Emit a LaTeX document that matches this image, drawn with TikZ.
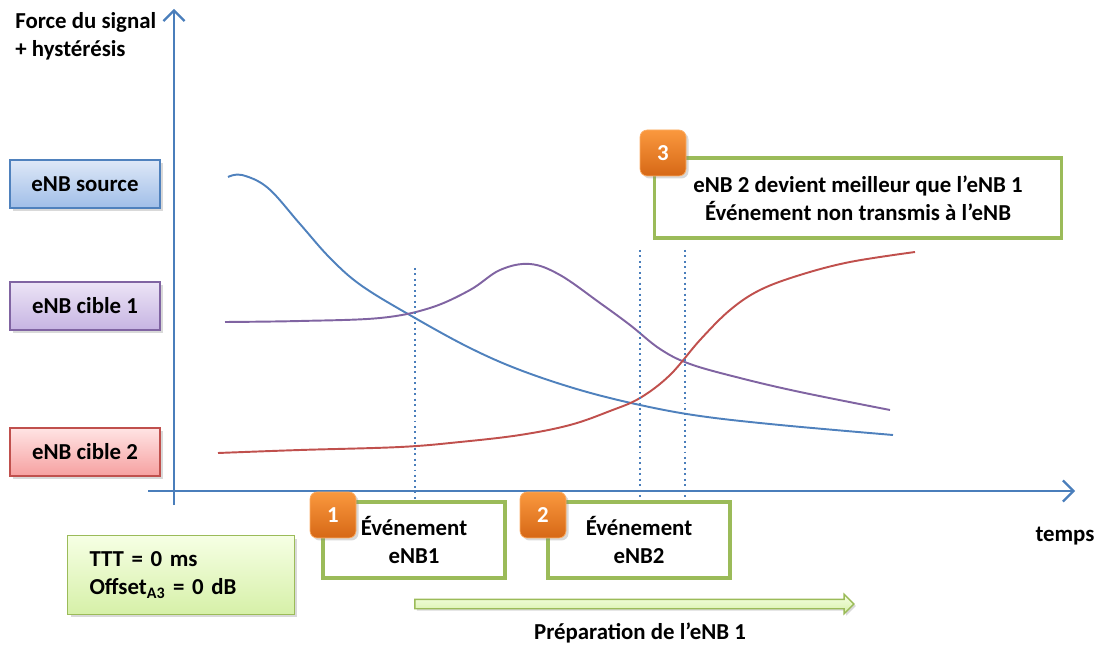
\documentclass[tikz,border=0pt]{standalone}
\usepackage{fontspec}
\setmainfont{Carlito}
\usetikzlibrary{arrows.meta,shapes.arrows,shadows,positioning}
\definecolor{axisblue}{RGB}{74,126,187}
\definecolor{srcblue}{RGB}{79,129,189}
\definecolor{cibpurple}{RGB}{128,100,162}
\definecolor{cibred}{RGB}{192,80,77}
\definecolor{evtgreen}{RGB}{155,187,89}
\definecolor{badgetop}{RGB}{250,152,62}
\definecolor{badgebot}{RGB}{214,104,22}
\definecolor{boxblueA}{RGB}{222,232,247}
\definecolor{boxblueB}{RGB}{160,190,232}
\definecolor{boxpurpleA}{RGB}{236,228,246}
\definecolor{boxpurpleB}{RGB}{198,180,226}
\definecolor{boxredA}{RGB}{255,228,228}
\definecolor{boxredB}{RGB}{246,160,160}
\definecolor{boxgreenA}{RGB}{246,255,228}
\definecolor{boxgreenB}{RGB}{214,240,168}
\tikzset{
  basetxt/.style={font=\fontsize{13}{16}\selectfont\bfseries},
  legbox/.style={basetxt,rectangle,thick,minimum width=3cm,minimum height=0.96cm,
    drop shadow={opacity=0.3,shadow xshift=0.06cm,shadow yshift=-0.06cm}},
  srcnode/.style={legbox,draw=srcblue,top color=boxblueA,bottom color=boxblueB},
  cib1node/.style={legbox,draw=cibpurple,top color=boxpurpleA,bottom color=boxpurpleB},
  cib2node/.style={legbox,draw=cibred,top color=boxredA,bottom color=boxredB},
  evtbox/.style={basetxt,rectangle,draw=evtgreen,line width=2.2pt,fill=white,align=center},
  badge/.style={basetxt,rectangle,rounded corners=4pt,minimum size=0.92cm,inner sep=0pt,
    draw=badgetop!80!white,top color=badgetop,bottom color=badgebot,text=white,
    drop shadow={opacity=0.3,shadow xshift=0.05cm,shadow yshift=-0.05cm}},
  parambox/.style={basetxt,rectangle,draw=evtgreen,thick,top color=boxgreenA,bottom color=boxgreenB,
    align=left,text width=3.66cm,inner xsep=0.44cm,minimum height=1.58cm,
    drop shadow={opacity=0.3,shadow xshift=0.06cm,shadow yshift=-0.06cm}},
  axisarr/.style={axisblue,line width=1.3pt,-{Straight Barb[length=6pt,width=12pt]}},
  sigcurve/.style={line width=1.1pt},
  evtline/.style={axisblue,line width=1.1pt,dotted}
}
\begin{document}
\begin{tikzpicture}[x=0.02cm,y=-0.02cm]
  \useasboundingbox (0,0) rectangle (1098,651);

  % axes
  \coordinate (ybot) at (174,505);
  \coordinate (ytop) at (174,9);
  \coordinate (xlft) at (148,491);
  \coordinate (xrgt) at (1075,491);
  \draw[axisarr] (ybot) -- (ytop);
  \draw[axisarr] (xlft) -- (xrgt);
  \node[basetxt,anchor=north west,align=left,inner sep=0pt] (ylab) at (15,12)
      {Force du signal\\+ hystérésis};
  \node[basetxt] (xlab) at (1065,536) {temps};

  % legend boxes
  \node[srcnode] (src) at (85,184) {eNB source};
  \node[cib1node] (cib1) at (85,306) {eNB cible 1};
  \node[cib2node] (cib2) at (85,452) {eNB cible 2};

  % signal curves
  \draw[sigcurve,srcblue] plot[smooth,tension=0.6] coordinates {
    (228,177) (242,175) (268,188) (300,224) (330,258) (362,286) (415,318)
    (470,348) (520,370) (580,390) (640,405) (700,416) (780,425) (893,435)};
  \draw[sigcurve,cibpurple] plot[smooth,tension=0.6] coordinates {
    (225,322) (300,321) (380,318) (430,308) (470,290) (500,270) (530,264)
    (560,275) (600,303) (630,325) (660,349) (690,364) (740,378) (800,392) (890,410)};
  \draw[sigcurve,cibred] plot[smooth,tension=0.6] coordinates {
    (218,453) (300,450) (400,447) (460,442) (520,435) (570,425) (610,411)
    (640,398) (670,375) (700,340) (730,310) (760,290) (800,275) (850,262) (915,252)};

  % event markers
  \coordinate (m1t) at (415,268);
  \coordinate (m1b) at (415,500);
  \coordinate (m2t) at (640,250);
  \coordinate (m2b) at (640,500);
  \coordinate (m3t) at (685,250);
  \coordinate (m3b) at (685,500);
  \draw[evtline] (m1t) -- (m1b);
  \draw[evtline] (m2t) -- (m2b);
  \draw[evtline] (m3t) -- (m3b);

  % events
  \node[evtbox,minimum width=3.64cm,minimum height=1.52cm] (ev1) at (414,540) {Événement\\eNB1};
  \node[evtbox,minimum width=3.64cm,minimum height=1.52cm] (ev2) at (639,540) {Événement\\eNB2};
  \node[evtbox,minimum width=8.14cm,minimum height=1.6cm] (ev3) at (858,198)
      {eNB 2 devient meilleur\ que l’eNB 1\\Événement non transmis à l’eNB};
  \node[badge] (b1) at (333,515) {1};
  \node[badge] (b2) at (543,515) {2};
  \node[badge] (b3) at (663,153) {3};

  % parameters
  \node[parambox] (param) at (181,575) {TTT = 0 ms\\Offset\textsubscript{A3} = 0 dB};

  % preparation
  \node[single arrow,draw=evtgreen,thick,top color=boxgreenA,bottom color=boxgreenB,
        inner xsep=0pt,inner ysep=0.08cm,minimum height=8.78cm,minimum width=0.38cm,
        single arrow head extend=0.1cm,
        drop shadow={opacity=0.3,shadow xshift=0.04cm,shadow yshift=-0.04cm}] (prep) at (632,604) {};
  \node[basetxt] (preplab) at (640,633) {Préparation de l’eNB 1};
\end{tikzpicture}
\end{document}
